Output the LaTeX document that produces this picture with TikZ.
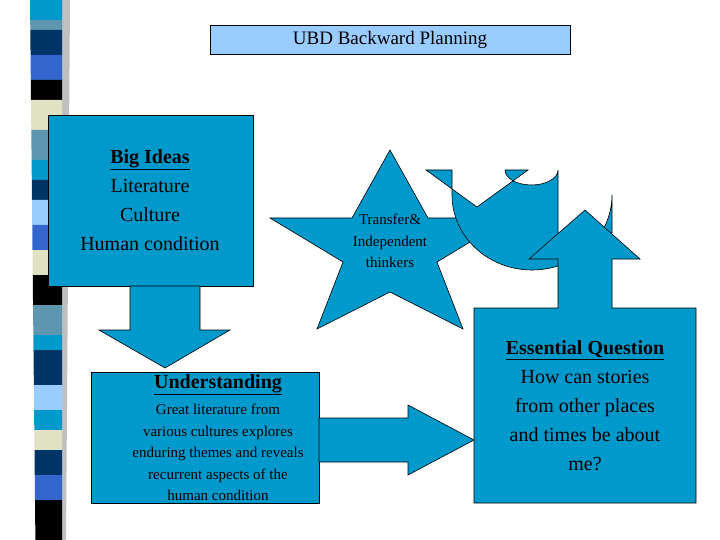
\documentclass[tikz,border=0pt]{standalone}
\usepackage{fontspec}
\setmainfont{Liberation Serif}
\usetikzlibrary{positioning}
\definecolor{slideblue}{RGB}{0,153,204}
\definecolor{titleblue}{RGB}{153,204,255}
\definecolor{stnavy}{RGB}{0,51,102}
\definecolor{stroyal}{RGB}{51,102,204}
\definecolor{ststeel}{RGB}{95,150,175}
\definecolor{stcream}{RGB}{225,225,195}
\definecolor{stlight}{RGB}{153,204,255}
\begin{document}
\begin{tikzpicture}[x=1pt,y=-1pt,
  blueshape/.style={fill=slideblue,draw=black,line width=0.6pt},
  bigtext/.style={font=\fontsize{20}{29}\selectfont,align=center},
  smalltext/.style={font=\fontsize{15}{21.5}\selectfont,align=center}]
\useasboundingbox (0,0) rectangle (720,540);
\fill[white] (0,0) rectangle (720,540);
% striped band on the left
\fill[black!25] (62,0) -- (70,0) -- (66,540) -- (58,540) -- cycle;
\foreach \ya/\yb/\c in {0/20/slideblue,20/30/ststeel,30/55/stnavy,55/80/stroyal,80/100/black,
  100/130/stcream,130/160/ststeel,160/180/slideblue,180/200/stnavy,200/225/stlight,225/250/stroyal,
  250/275/stcream,275/305/black,305/335/ststeel,335/350/slideblue,350/385/stnavy,385/410/stlight,
  410/430/slideblue,430/450/stcream,450/475/stnavy,475/500/stroyal,500/540/black}
  \fill[\c] (30+\ya/100,\ya) -- (62,\ya) -- (62,\yb) -- (30+\yb/100,\yb) -- cycle;

% title
\node[draw=black,fill=titleblue,minimum width=360pt,minimum height=29pt,
  font=\fontsize{19}{22}\selectfont] (title) at (390,39.5) {UBD Backward Planning};

% big ideas box and arrow down
\draw[blueshape] (48,115) rectangle (253,286);
\node[bigtext] (ideas) at (150,200) {\textbf{\underline{Big Ideas}}\\Literature\\Culture\\Human condition};
\draw[blueshape] (130,286) -- (200,286) -- (200,330) -- (230,330) -- (165,368) -- (99,330) -- (130,330) -- cycle;

% understanding box and arrow right
\draw[blueshape] (91,372) rectangle (319,503);
\node[bigtext] (under) at (218,385) {\textbf{\underline{Understanding}}};
\node[smalltext,below=2pt of under] (underbody) {Great literature from\\various cultures explores\\enduring themes and reveals\\recurrent aspects of the\\human condition};
\draw[blueshape] (319,418) -- (408,418) -- (408,405) -- (474,440) -- (408,475) -- (408,462) -- (319,462) -- cycle;

% star
\draw[blueshape] (390,150) -- (428,218) -- (510,218) -- (437,262) -- (463,329) -- (390,292)
  -- (317,329) -- (343,262) -- (270,218) -- (352,218) -- cycle;
\node[smalltext] (star) at (390,241) {Transfer\&\\Independent\\thinkers};

% u-turn arrow
\draw[blueshape] (612,233) -- (612,195) arc[start angle=0,end angle=180,x radius=80,y radius=75]
  -- (452,170) -- (426,170) -- (477,207) -- (528,170) -- (505,170)
  arc[start angle=180,end angle=0,x radius=26.5,y radius=15] -- (558,233) -- cycle;

% essential question box and arrow up
\draw[blueshape] (474,308) -- (558,308) -- (558,259) -- (529,259) -- (585,210) -- (640,259)
  -- (612,259) -- (612,308) -- (696,308) -- (696,503) -- (474,503) -- cycle;
\node[bigtext] (essential) at (585,406) {\textbf{\underline{Essential Question}}\\How can stories\\from other places\\and times be about\\me?};
\end{tikzpicture}
\end{document}
